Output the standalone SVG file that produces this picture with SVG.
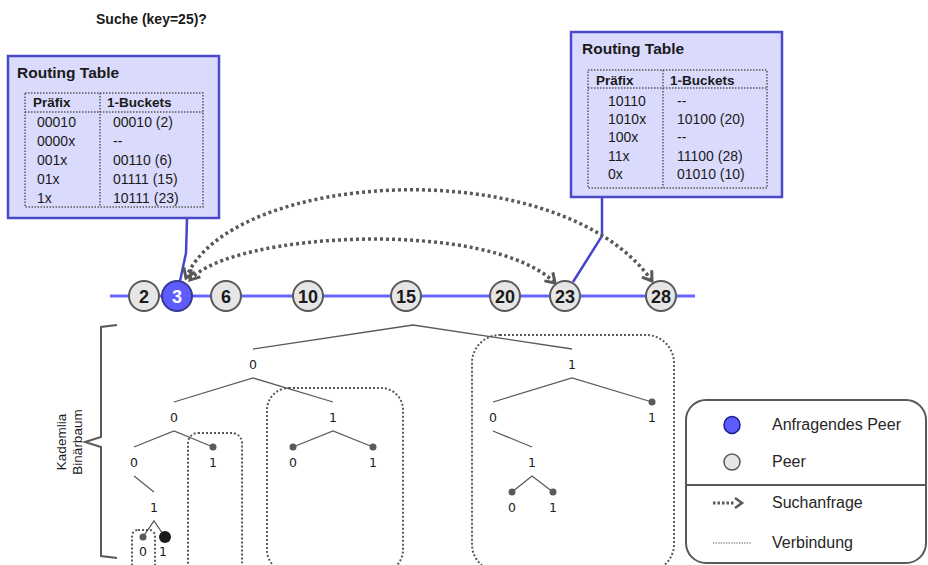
<svg xmlns="http://www.w3.org/2000/svg" width="928" height="565" viewBox="0 0 928 565">
<defs>
<style>
text{font-family:"Liberation Sans",Arial,sans-serif;fill:#1a1a1a}
.b{font-weight:bold}
.rt{fill:#dadafd;stroke:#4a4ac8;stroke-width:2.5}
.tbl{fill:none;stroke:#595959;stroke-width:1.5;stroke-dasharray:1.5 1.5}
.hd{font-size:13.5px;font-weight:bold}
.rw{font-size:14px}
.ttl{font-size:15.5px;font-weight:bold}
.peer{fill:#e6e6e6;stroke:#595959;stroke-width:2}
.nt{font-size:18px;font-weight:bold;text-anchor:middle}
.blue{fill:none;stroke:#4545d0;stroke-width:2.5}
.arc{fill:none;stroke:#595959;stroke-width:3.5;stroke-dasharray:3 3}
.tr{fill:none;stroke:#595959;stroke-width:1.3}
.tl{font-family:"DejaVu Sans",Verdana,sans-serif;font-size:12.5px;text-anchor:middle;fill:#1a1a1a}
.dot{fill:#595959}
.bk{fill:none;stroke:#595959;stroke-width:2;stroke-dasharray:2 2}
.lg{font-size:16px;fill:#262626}
</style>
<marker id="ah" viewBox="0 0 16 16" refX="12" refY="8" markerWidth="16" markerHeight="16" markerUnits="userSpaceOnUse" orient="auto-start-reverse">
<path d="M3,2 L12,8 L3,14" fill="none" stroke="#595959" stroke-width="3"/>
</marker>
</defs>

<text x="96" y="24" class="b" style="font-size:14px">Suche (key=25)?</text>

<!-- number line -->
<line x1="110" y1="296" x2="695" y2="296" stroke="#6666ff" stroke-width="3"/>

<g id="connectors">
<polyline class="blue" points="187,219 186,253 180,281"/>
<polyline class="blue" points="602,197 602,236 573,282"/>
<path class="arc" d="M190,280 C230,232 490,218 555,283" marker-start="url(#ah)" marker-end="url(#ah)"/>
<path class="arc" d="M186,278 C230,170 560,150 652,281" marker-start="url(#ah)" marker-end="url(#ah)"/>
</g>

<g id="rt-left">
<rect class="rt" x="8" y="56" width="211" height="162"/>
<text x="17" y="78" class="ttl">Routing Table</text>
<rect class="tbl" x="25" y="93" width="178" height="114"/>
<line class="tbl" x1="25" y1="112" x2="203" y2="112"/>
<line class="tbl" x1="100" y1="93" x2="100" y2="207"/>
<text x="33" y="107" class="hd">Präfix</text>
<text x="107" y="107" class="hd">1-Buckets</text>
<text x="37" y="127" class="rw">00010</text><text x="113" y="127" class="rw">00010 (2)</text>
<text x="37" y="146" class="rw">0000x</text><text x="113" y="146" class="rw">--</text>
<text x="37" y="165" class="rw">001x</text><text x="113" y="165" class="rw">00110 (6)</text>
<text x="37" y="184" class="rw">01x</text><text x="113" y="184" class="rw">01111 (15)</text>
<text x="37" y="203" class="rw">1x</text><text x="113" y="203" class="rw">10111 (23)</text>
</g>

<g id="rt-right">
<rect class="rt" x="571" y="32" width="211" height="165"/>
<text x="582" y="54" class="ttl">Routing Table</text>
<rect class="tbl" x="588" y="70" width="179" height="118"/>
<line class="tbl" x1="588" y1="88" x2="767" y2="88"/>
<line class="tbl" x1="663" y1="70" x2="663" y2="188"/>
<text x="596" y="85" class="hd">Präfix</text>
<text x="670" y="85" class="hd">1-Buckets</text>
<text x="608" y="106" class="rw">10110</text><text x="677" y="106" class="rw">--</text>
<text x="608" y="124" class="rw">1010x</text><text x="677" y="124" class="rw">10100 (20)</text>
<text x="608" y="142" class="rw">100x</text><text x="677" y="142" class="rw">--</text>
<text x="608" y="161" class="rw">11x</text><text x="677" y="161" class="rw">11100 (28)</text>
<text x="608" y="179" class="rw">0x</text><text x="677" y="179" class="rw">01010 (10)</text>
</g>

<g id="peer-2"><circle class="peer" cx="144" cy="296" r="15"/><text class="nt" x="144" y="302.5">2</text></g>
<g id="peer-3"><circle cx="177" cy="296" r="15" fill="#5c5cff" stroke="#3a3a8a" stroke-width="2"/><text class="nt" x="177" y="302.5" style="fill:#fff">3</text></g>
<g id="peer-6"><circle class="peer" cx="226" cy="296" r="15"/><text class="nt" x="226" y="302.5">6</text></g>
<g id="peer-10"><circle class="peer" cx="308" cy="296" r="15"/><text class="nt" x="308" y="302.5">10</text></g>
<g id="peer-15"><circle class="peer" cx="406" cy="296" r="15"/><text class="nt" x="406" y="302.5">15</text></g>
<g id="peer-20"><circle class="peer" cx="505" cy="296" r="15"/><text class="nt" x="505" y="302.5">20</text></g>
<g id="peer-23"><circle class="peer" cx="565" cy="296" r="15"/><text class="nt" x="565" y="302.5">23</text></g>
<g id="peer-28"><circle class="peer" cx="661" cy="296" r="15"/><text class="nt" x="661" y="302.5">28</text></g>

<!-- brace and label -->
<path d="M117,325 L101,327 L101,437 L85,442 L101,447 L101,556 L117,558" fill="none" stroke="#595959" stroke-width="2"/>
<text transform="translate(66,442) rotate(-90)" text-anchor="middle" style="font-size:13.5px">Kademlia</text>
<text transform="translate(82,442) rotate(-90)" text-anchor="middle" style="font-size:13.5px">Binärbaum</text>

<!-- buckets -->
<g id="buckets">
<rect class="bk" x="472" y="335" width="202" height="237" rx="28"/>
<rect class="bk" x="267" y="388" width="136" height="184" rx="22"/>
<rect class="bk" x="188" y="433" width="54" height="139" rx="10"/>
<rect class="bk" x="132" y="530" width="23" height="42" rx="6"/>
</g>

<!-- tree -->
<g id="tree">
<polyline class="tr" points="253,349 413,325 572,349"/>
<text class="tl" x="253" y="369">0</text>
<text class="tl" x="572" y="369">1</text>
<polyline class="tr" points="174,402 253,378 333,402"/>
<text class="tl" x="174" y="422">0</text>
<text class="tl" x="333" y="422">1</text>
<polyline class="tr" points="134,447 174,431 213,447"/>
<circle class="dot" cx="213" cy="447" r="3.5"/>
<text class="tl" x="134" y="467">0</text>
<text class="tl" x="213" y="467">1</text>
<line class="tr" x1="134" y1="476" x2="154" y2="492"/>
<text class="tl" x="154" y="512">1</text>
<polyline class="tr" points="143,537 154,521 165,537"/>
<circle class="dot" cx="143" cy="537" r="3.5"/>
<circle cx="165" cy="537" r="6" fill="#1a1a1a"/>
<text class="tl" x="143" y="556">0</text>
<text class="tl" x="163" y="556">1</text>
<polyline class="tr" points="293,447 333,431 373,447"/>
<circle class="dot" cx="293" cy="447" r="3.5"/>
<circle class="dot" cx="373" cy="447" r="3.5"/>
<text class="tl" x="293" y="467">0</text>
<text class="tl" x="373" y="467">1</text>
<polyline class="tr" points="493,402 572,378 652,402"/>
<circle class="dot" cx="652" cy="402" r="3.5"/>
<text class="tl" x="493" y="422">0</text>
<text class="tl" x="652" y="422">1</text>
<line class="tr" x1="493" y1="431" x2="532" y2="447"/>
<text class="tl" x="532" y="467">1</text>
<polyline class="tr" points="512,492 532,476 553,492"/>
<circle class="dot" cx="512" cy="492" r="3.5"/>
<circle class="dot" cx="553" cy="492" r="3.5"/>
<text class="tl" x="512" y="512">0</text>
<text class="tl" x="553" y="512">1</text>
</g>

<!-- legend -->
<g id="legend">
<rect x="686" y="400" width="240" height="163" rx="20" fill="#fff" stroke="#595959" stroke-width="2"/>
<line x1="686" y1="485" x2="926" y2="485" stroke="#595959" stroke-width="2"/>
<ellipse cx="732" cy="425" rx="8" ry="8.5" fill="#5c5cff" stroke="#1a1a8c" stroke-width="1.5"/>
<text class="lg" x="772" y="430">Anfragendes Peer</text>
<circle cx="732" cy="462" r="8" fill="#e6e6e6" stroke="#595959" stroke-width="1.5"/>
<text class="lg" x="772" y="467">Peer</text>
<line x1="713" y1="503" x2="734" y2="503" stroke="#595959" stroke-width="3" stroke-dasharray="2.5 2"/>
<path d="M735,498 L742,503 L735,508" fill="none" stroke="#595959" stroke-width="2.5"/>
<text class="lg" x="772" y="508">Suchanfrage</text>
<line x1="713" y1="543" x2="751" y2="543" stroke="#595959" stroke-width="1" stroke-dasharray="1.3 1.3"/>
<text class="lg" x="772" y="548">Verbindung</text>
</g>
</svg>
